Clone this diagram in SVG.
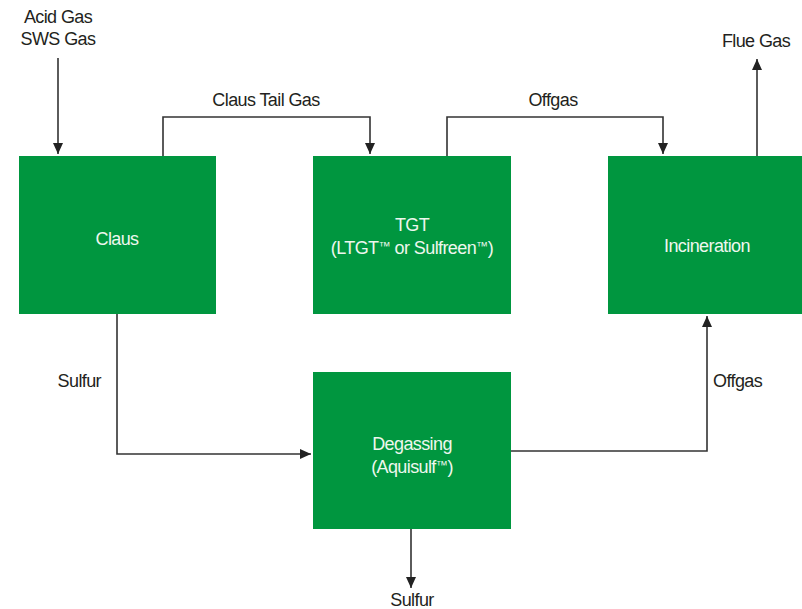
<svg xmlns="http://www.w3.org/2000/svg" width="802" height="609" viewBox="0 0 802 609">
<style>
.box{fill:#00963f}
.bt{font-family:"Liberation Sans",Arial,sans-serif;font-size:18px;fill:#eef7ee;text-anchor:middle;letter-spacing:-0.6px}
.lt{font-family:"Liberation Sans",Arial,sans-serif;font-size:18px;fill:#231f20;letter-spacing:-0.6px}
.tm{font-size:12px;letter-spacing:-0.3px}
.c{text-anchor:middle}
.ln{fill:none;stroke:#333;stroke-width:1.6}
</style>
<defs>
<marker id="ah" markerUnits="userSpaceOnUse" markerWidth="12" markerHeight="10" refX="11" refY="5" orient="auto">
<path d="M0,0 L11,5 L0,10 Z" fill="#222"/>
</marker>
</defs>
<rect width="802" height="609" fill="#fff"/>
<g id="connectors">
<path class="ln" d="M58,58 V154" marker-end="url(#ah)"/>
<path class="ln" d="M163,156 V117 H370 V154" marker-end="url(#ah)"/>
<path class="ln" d="M447,156 V117 H663 V154" marker-end="url(#ah)"/>
<path class="ln" d="M757,156 V59" marker-end="url(#ah)"/>
<path class="ln" d="M117,314 V454 H311" marker-end="url(#ah)"/>
<path class="ln" d="M511,451 H707 V316" marker-end="url(#ah)"/>
<path class="ln" d="M411,529 V588" marker-end="url(#ah)"/>
</g>
<g id="labels">
<text class="lt c" x="58" y="23">Acid Gas</text>
<text class="lt c" x="58" y="45">SWS Gas</text>
<text class="lt c" x="266" y="106">Claus Tail Gas</text>
<text class="lt c" x="553" y="106">Offgas</text>
<text class="lt c" x="756" y="47">Flue Gas</text>
<text class="lt" x="101" y="387" text-anchor="end">Sulfur</text>
<text class="lt" x="713" y="387">Offgas</text>
<text class="lt c" x="412" y="606">Sulfur</text>
</g>
<g id="claus">
<rect class="box" x="19" y="156" width="197" height="158"/>
<text class="bt" x="117" y="245">Claus</text>
</g>
<g id="tgt">
<rect class="box" x="313" y="156" width="198" height="158"/>
<text class="bt" x="412" y="231">TGT</text>
<text class="bt" x="412" y="254">(LTGT<tspan class="tm" dy="-4">™</tspan><tspan dy="4"> or Sulfreen</tspan><tspan class="tm" dy="-4">™</tspan><tspan dy="4">)</tspan></text>
</g>
<g id="incineration">
<rect class="box" x="608" y="156" width="194" height="158"/>
<text class="bt" x="707" y="252">Incineration</text>
</g>
<g id="degassing">
<rect class="box" x="313" y="372" width="198" height="157"/>
<text class="bt" x="412" y="450">Degassing</text>
<text class="bt" x="412" y="473">(Aquisulf<tspan class="tm" dy="-4">™</tspan><tspan dy="4">)</tspan></text>
</g>
</svg>
